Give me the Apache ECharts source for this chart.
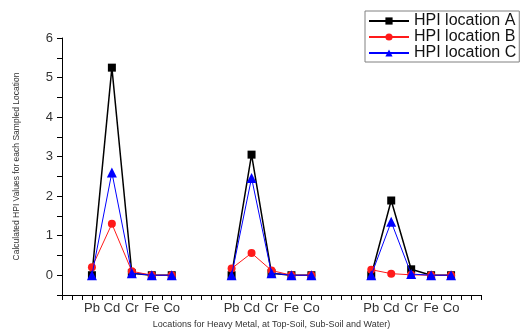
<!DOCTYPE html>
<html><head><meta charset="utf-8">
<script src="https://cdn.jsdelivr.net/npm/echarts@6/dist/echarts.min.js"></script>
<style>html,body{margin:0;padding:0;background:#fff}#c{width:527px;height:330px}</style>
</head><body><div id="c"></div>
<script>
const metals = ['Pb', 'Cd', 'Cr', 'Fe', 'Co'];
const groups = ['Top-Soil', 'Sub-Soil', 'Water'];
const hpiA = [[0, 5.25, 0.05, 0, 0], [0, 3.05, 0.05, 0, 0], [0, 1.89, 0.15, 0, 0]];
const hpiB = [[0.2, 1.3, 0.1, 0, 0], [0.17, 0.56, 0.12, 0, 0], [0.14, 0.04, 0.01, 0, 0]];
const hpiC = [[0, 2.6, 0.05, 0, 0], [0, 2.46, 0.05, 0, 0], [0, 1.35, 0.03, 0, 0]];
const seriesNames = ['HPI location A', 'HPI location B', 'HPI location C'];
const yTicks = [0, 1, 2, 3, 4, 5, 6];

const GROUP_STEP = 7, FIRST = 1.5;
const xOf = (g, i) => FIRST + g * GROUP_STEP + i;

const styles = [
  {color: '#000000', symbol: 'rect', symbolSize: 8, width: 1.5},
  {color: '#ff1a1a', symbol: 'circle', symbolSize: 8, width: 1},
  {color: '#0000ff', symbol: 'triangle', symbolSize: 10, width: 1}
];
const all = [hpiA, hpiB, hpiC];
const series = [];
all.forEach((arr, s) => {
  groups.forEach((g, gi) => {
    series.push({
      name: seriesNames[s], type: 'line',
      data: arr[gi].map((v, i) => [xOf(gi, i), v]),
      symbol: styles[s].symbol, symbolSize: styles[s].symbolSize,
      itemStyle: {color: styles[s].color},
      lineStyle: {color: styles[s].color, width: styles[s].width},
      z: 2 + s, animation: false
    });
  });
});

const chart = echarts.init(document.getElementById('c'));
chart.setOption({
  animation: false,
  textStyle: {fontFamily: 'Liberation Sans, Arial, sans-serif'},
  grid: {left: 62, top: 38, right: 46, bottom: 35, containLabel: false, outerBoundsMode: 'none'},
  legend: {
    orient: 'vertical', left: 365, top: 11,
    data: seriesNames,
    itemWidth: 40, itemHeight: 9, itemGap: 0,
    padding: [2, 3, 1, 3],
    borderColor: '#808080', borderWidth: 1,
    textStyle: {fontSize: 16, lineHeight: 15, color: '#111', fontFamily: 'Liberation Sans, Arial, sans-serif'}
  },
  xAxis: {
    type: 'value', min: 0, max: 21, interval: 0.5,
    name: 'Locations for Heavy Metal, at Top-Soil, Sub-Soil and Water)',
    nameLocation: 'middle', nameGap: 23,
    nameTextStyle: {fontSize: 9, color: '#333'},
    splitLine: {show: false},
    axisLine: {onZero: false, lineStyle: {color: '#000', width: 1}},
    axisTick: {length: 5, lineStyle: {color: '#000'}},
    axisLabel: {
      fontSize: 13, color: '#333', margin: 7,
      showMinLabel: true, showMaxLabel: true,
      formatter: v => {
        const r = (v - FIRST) % GROUP_STEP;
        const g = Math.floor((v - FIRST) / GROUP_STEP);
        if (v >= FIRST && Number.isInteger(r) && r < metals.length && g < groups.length) return metals[r];
        return '';
      }
    }
  },
  yAxis: {
    type: 'value', min: -0.5, max: 6, interval: 0.5,
    name: 'Calculated HPI Values for each Sampled Location',
    nameLocation: 'middle', nameGap: 41, nameRotate: 90,
    nameTextStyle: {fontSize: 8.5, color: '#333'},
    splitLine: {show: false},
    axisLine: {show: true, lineStyle: {color: '#000', width: 1}},
    axisTick: {show: true, length: 5, lineStyle: {color: '#000'}},
    axisLabel: {
      fontSize: 13, color: '#333', margin: 9,
      formatter: v => (yTicks.indexOf(v) >= 0 ? String(v) : '')
    }
  },
  series: series
});
</script></body></html>
